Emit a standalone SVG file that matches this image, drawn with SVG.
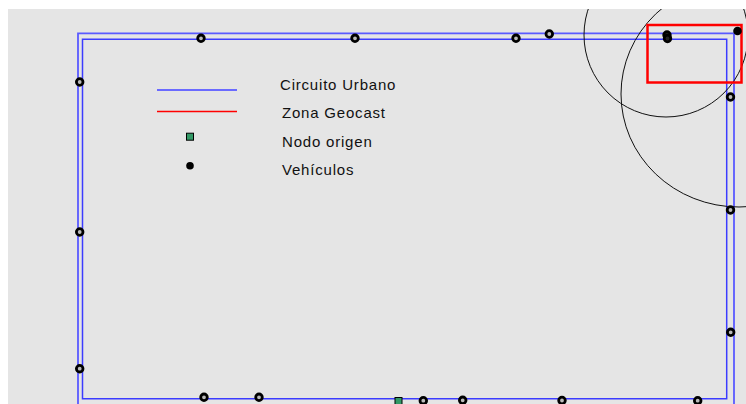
<svg xmlns="http://www.w3.org/2000/svg" width="746" height="404" viewBox="0 0 746 404">
  <defs>
    <clipPath id="plot"><rect x="8" y="9" width="738" height="395"/></clipPath>
    <style>
      .road { fill: none; stroke: #5a5aff; stroke-width: 1.8; }
      .road2 { fill: none; stroke: #3c3cff; stroke-width: 1.5; }
      .veh { fill: #bbbbbb; stroke: #000; stroke-width: 2.8; }
      .range { fill: none; stroke: #111; stroke-width: 1; }
      .lbl { font-family: "Liberation Sans", Arial, sans-serif; font-size: 15px; fill: #111; letter-spacing: 0.8px; }
    </style>
  </defs>
  <rect x="0" y="0" width="746" height="404" fill="#ffffff"/>
  <rect x="8" y="9" width="738" height="395" fill="#e5e5e5"/>

  <g id="connectors" clip-path="url(#plot)">
    <polyline class="road" points="78,410 78,33.3 734,33.3 734,410"/>
    <polygon class="road2" points="82.5,39.3 726.7,39.3 726.7,398.7 82.5,398.7"/>
    <circle class="range" cx="666" cy="35" r="82"/>
    <ellipse class="range" cx="739" cy="94" rx="118" ry="113"/>
  </g>

  <g id="geocast-zone">
    <rect x="647.5" y="25" width="94" height="57.5" fill="none" stroke="#ff0000" stroke-width="2.5"/>
  </g>

  <g id="vehicles" clip-path="url(#plot)">
    <circle class="veh" cx="201" cy="38.3" r="3.3"/>
    <circle class="veh" cx="355" cy="38.3" r="3.3"/>
    <circle class="veh" cx="516" cy="38.3" r="3.3"/>
    <circle class="veh" cx="549.3" cy="34" r="3.3"/>
    <circle class="veh" cx="667" cy="35" r="3.3" style="fill:#222"/>
    <circle class="veh" cx="667.5" cy="38.5" r="3.3" style="fill:#222"/>
    <circle cx="737.5" cy="31" r="4.3" fill="#000"/>
    <circle class="veh" cx="79.7" cy="82" r="3.3"/>
    <circle class="veh" cx="79.7" cy="232" r="3.3"/>
    <circle class="veh" cx="79.7" cy="368.7" r="3.3"/>
    <circle class="veh" cx="730.5" cy="97" r="3.3"/>
    <circle class="veh" cx="730.5" cy="210" r="3.3"/>
    <circle class="veh" cx="730.7" cy="332.3" r="3.3"/>
    <circle class="veh" cx="204" cy="397.3" r="3.3"/>
    <circle class="veh" cx="259" cy="397.3" r="3.3"/>
    <circle class="veh" cx="423.3" cy="400.7" r="3.3"/>
    <circle class="veh" cx="462.7" cy="400.3" r="3.3"/>
    <circle class="veh" cx="562" cy="400.5" r="3.3"/>
    <circle class="veh" cx="697.7" cy="400.7" r="3.3"/>
  </g>

  <g id="source-node">
    <rect x="395" y="397.5" width="7" height="8" fill="#339966" stroke="#000" stroke-width="1"/>
  </g>

  <g id="legend">
    <line x1="157" y1="90" x2="237" y2="90" stroke="#6a6aff" stroke-width="1.8"/>
    <line x1="157" y1="111.5" x2="237" y2="111.5" stroke="#ff0000" stroke-width="1.5"/>
    <rect x="186.5" y="133.2" width="7" height="7" fill="#339966" stroke="#000" stroke-width="1"/>
    <circle cx="190" cy="165.7" r="3.8" fill="#000"/>
    <text class="lbl" x="280" y="90">Circuito Urbano</text>
    <text class="lbl" x="282" y="118">Zona Geocast</text>
    <text class="lbl" x="282" y="146.5">Nodo origen</text>
    <text class="lbl" x="282" y="174.5">Vehículos</text>
  </g>
</svg>
